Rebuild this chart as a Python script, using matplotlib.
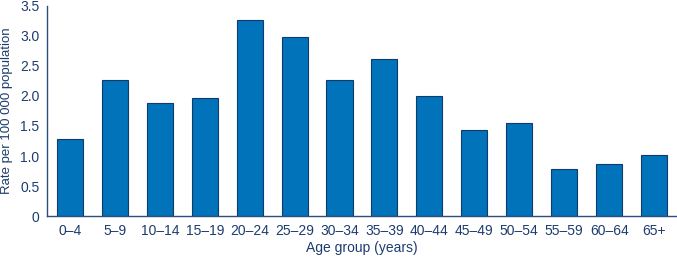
import matplotlib.pyplot as plt

age_groups = ['0–4', '5–9', '10–14', '15–19', '20–24', '25–29', '30–34',
              '35–39', '40–44', '45–49', '50–54', '55–59', '60–64', '65+']
rates = [1.28, 2.27, 1.89, 1.97, 3.26, 2.99, 2.27,
         2.62, 2.00, 1.44, 1.55, 0.78, 0.86, 1.02]
y_ticks = [0, 0.5, 1.0, 1.5, 2.0, 2.5, 3.0, 3.5]
y_tick_labels = ['0', '0.5', '1.0', '1.5', '2.0', '2.5', '3.0', '3.5']

text_color = '#1d3c6e'
plt.rcParams['font.family'] = ['Liberation Sans', 'DejaVu Sans']

fig = plt.figure(figsize=(6.77, 2.57), dpi=100)
ax = fig.add_axes([0.0694, 0.1595, 0.9306, 0.8172])

x = range(len(age_groups))
ax.bar(x, rates, width=0.58, color='#0073bb', edgecolor='#123a6a', linewidth=0.8)

ax.set_xlim(-0.51, len(age_groups) - 0.49)
ax.set_ylim(0, 3.5)
ax.set_yticks(y_ticks)
ax.set_yticklabels(y_tick_labels)
ax.set_xticks(list(x))
ax.set_xticklabels(age_groups)
ax.tick_params(axis='both', length=0, labelsize=10, labelcolor=text_color)
ax.tick_params(axis='y', pad=5.5)
ax.tick_params(axis='x', pad=6)

for side in ['top', 'right']:
    ax.spines[side].set_visible(False)
for side in ['left', 'bottom']:
    ax.spines[side].set_color('#2a4d80')
    ax.spines[side].set_linewidth(1.0)

ax.set_ylabel('Rate per 100 000 population', fontsize=9.5, color=text_color, labelpad=5)
ax.set_xlabel('Age group (years)', fontsize=10, color=text_color, labelpad=2)

fig.savefig('out.png', dpi=100)
